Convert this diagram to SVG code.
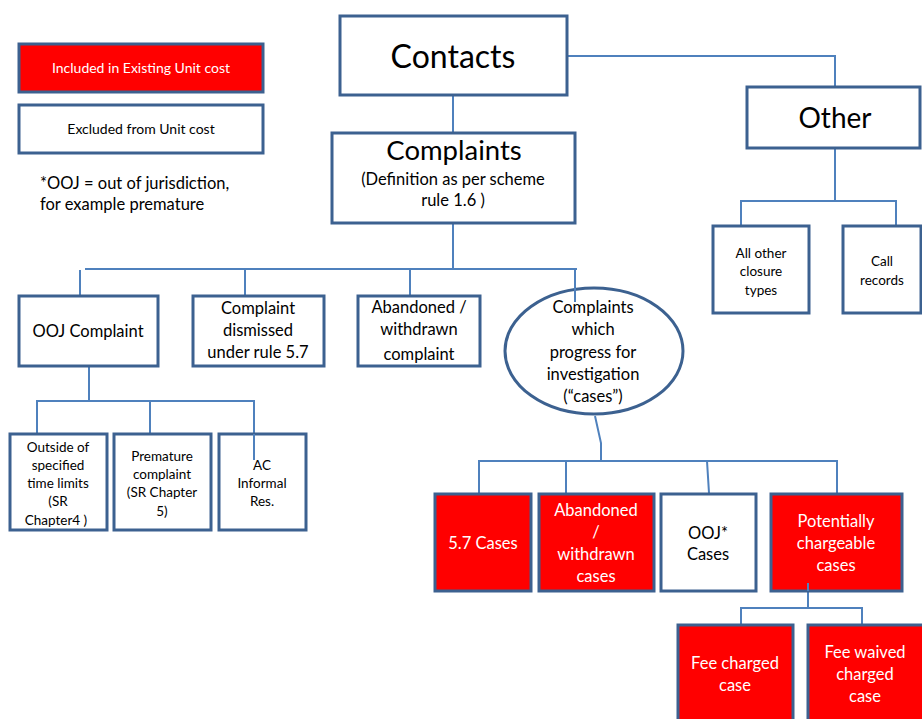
<svg xmlns="http://www.w3.org/2000/svg" width="922" height="719" viewBox="0 0 922 719">
<style>
.box{fill:#fff;stroke:#3C6190;stroke-width:3}
.red{fill:#FF0000;stroke:#3C6190;stroke-width:3}
.c{fill:none;stroke:#4F81BD;stroke-width:2}
text{font-family:Lato,"Open Sans","Liberation Sans",sans-serif;fill:#000;text-anchor:middle}
.w{fill:#fff}
.f16{font-size:16.5px}
.f13{font-size:13.5px}
</style>
<rect width="922" height="719" fill="#fff"/>
<g id="connectors">
<polyline class="c" points="567,56 835,56 835,87"/>
<line class="c" x1="453" y1="95" x2="453" y2="133"/>
<line class="c" x1="453" y1="223" x2="453" y2="269"/>
<polyline class="c" points="85,269 577,269"/>
<line class="c" x1="80" y1="270" x2="80" y2="296"/>
<line class="c" x1="245" y1="269" x2="245" y2="296"/>
<line class="c" x1="410" y1="269" x2="410" y2="296"/>
<line class="c" x1="575" y1="269" x2="575" y2="302"/>
<polyline class="c" points="89,366 89,401"/>
<polyline class="c" points="37,434 37,401 254,401 254,460"/>
<line class="c" x1="150" y1="401" x2="150" y2="434"/>
<polyline class="c" points="835,148 835,201"/>
<polyline class="c" points="741,226 741,201 896,201 896,226"/>
<polyline class="c" points="595,416 601,443 601,461"/>
<polyline class="c" points="479,493 479,461 837,461 837,493"/>
<line class="c" x1="566" y1="461" x2="566" y2="493"/>
<line class="c" x1="707" y1="461" x2="709" y2="493"/>
<polyline class="c" points="808,583 808,608"/>
<polyline class="c" points="741,625 741,608 862,608 862,625"/>
</g>
<g id="legend-included"><rect class="red" x="19" y="44" width="244" height="48"/><text class="w" x="141" y="73" font-size="14">Included in Existing Unit cost</text></g>
<g id="legend-excluded"><rect class="box" x="19" y="105" width="244" height="48"/><text x="141" y="134" font-size="14">Excluded from Unit cost</text></g>
<g id="note"><text x="40" y="189" font-size="16.5" style="text-anchor:start">*OOJ = out of jurisdiction,</text><text x="40" y="210" font-size="16.5" style="text-anchor:start">for example premature</text></g>
<g id="contacts"><rect class="box" x="340" y="16" width="227" height="79"/><text x="453" y="68" font-size="32">Contacts</text></g>
<g id="other"><rect class="box" x="747" y="87" width="173" height="61"/><text x="835" y="128" font-size="28">Other</text></g>
<g id="complaints"><rect class="box" x="332" y="133" width="243" height="90"/><text x="454" y="160" font-size="27.5">Complaints</text><text x="453" y="185" font-size="16.5">(Definition as per scheme</text><text x="453" y="206" font-size="16.5">rule 1.6 )</text></g>
<g id="all-other"><rect class="box" x="713" y="226" width="96" height="87"/><text class="f13" x="761" y="258">All other</text><text class="f13" x="761" y="276">closure</text><text class="f13" x="761" y="295">types</text></g>
<g id="call-records"><rect class="box" x="843" y="226" width="78" height="87"/><text class="f13" x="882" y="266">Call</text><text class="f13" x="882" y="285">records</text></g>
<g id="ooj-complaint"><rect class="box" x="19" y="296" width="139" height="70"/><text class="f16" x="88" y="337">OOJ Complaint</text></g>
<g id="dismissed"><rect class="box" x="193" y="296" width="131" height="70"/><text class="f16" x="258" y="314">Complaint</text><text class="f16" x="258" y="336">dismissed</text><text class="f16" x="258" y="358">under rule 5.7</text></g>
<g id="abandoned-complaint"><rect class="box" x="358" y="296" width="122" height="70"/><text class="f16" x="419" y="313">Abandoned /</text><text class="f16" x="419" y="335">withdrawn</text><text class="f16" x="419" y="360">complaint</text></g>
<g id="progress"><ellipse cx="594" cy="351" rx="89" ry="63" fill="#fff" stroke="#3C6190" stroke-width="3"/><line class="c" x1="575" y1="288" x2="575" y2="302"/><text class="f16" x="593" y="313">Complaints</text><text class="f16" x="593" y="335">which</text><text class="f16" x="593" y="358">progress for</text><text class="f16" x="593" y="380">investigation</text><text class="f16" x="593" y="402">(“cases”)</text></g>
<g id="outside"><rect class="box" x="10" y="434" width="97" height="96"/><text class="f13" x="58" y="452">Outside of</text><text class="f13" x="58" y="470">specified</text><text class="f13" x="58" y="488">time limits</text><text class="f13" x="58" y="506">(SR</text><text class="f13" x="56" y="525">Chapter4 )</text></g>
<g id="premature"><rect class="box" x="114" y="434" width="97" height="96"/><text class="f13" x="162" y="461">Premature</text><text class="f13" x="162" y="479">complaint</text><text class="f13" x="162" y="497">(SR Chapter</text><text class="f13" x="162" y="516">5)</text></g>
<g id="ac"><rect class="box" x="219" y="434" width="87" height="96"/><line class="c" x1="254" y1="434" x2="254" y2="460"/><text class="f13" x="262" y="470">AC</text><text class="f13" x="262" y="488">Informal</text><text class="f13" x="262" y="506">Res.</text></g>
<g id="cases-57"><rect class="red" x="435" y="494" width="96" height="97"/><text class="f16 w" x="483" y="549">5.7 Cases</text></g>
<g id="abandoned-cases"><rect class="red" x="539" y="494" width="115" height="97"/><text class="f16 w" x="596" y="516">Abandoned</text><text class="f16 w" x="596" y="538">/</text><text class="f16 w" x="596" y="560">withdrawn</text><text class="f16 w" x="596" y="582">cases</text></g>
<g id="ooj-cases"><rect class="box" x="661" y="494" width="95" height="97"/><text class="f16" x="708" y="539">OOJ*</text><text class="f16" x="708" y="560">Cases</text></g>
<g id="potentially"><rect class="red" x="771" y="494" width="131" height="97"/><line class="c" x1="808" y1="583" x2="808" y2="591"/><text class="f16 w" x="836" y="527">Potentially</text><text class="f16 w" x="836" y="549">chargeable</text><text class="f16 w" x="836" y="571">cases</text></g>
<g id="fee-charged"><rect class="red" x="678" y="625" width="115" height="100"/><text class="f16 w" x="735" y="669">Fee charged</text><text class="f16 w" x="735" y="691">case</text></g>
<g id="fee-waived"><rect class="red" x="808" y="625" width="116" height="100"/><text class="f16 w" x="865" y="658">Fee waived</text><text class="f16 w" x="865" y="680">charged</text><text class="f16 w" x="865" y="702">case</text></g>
</svg>
